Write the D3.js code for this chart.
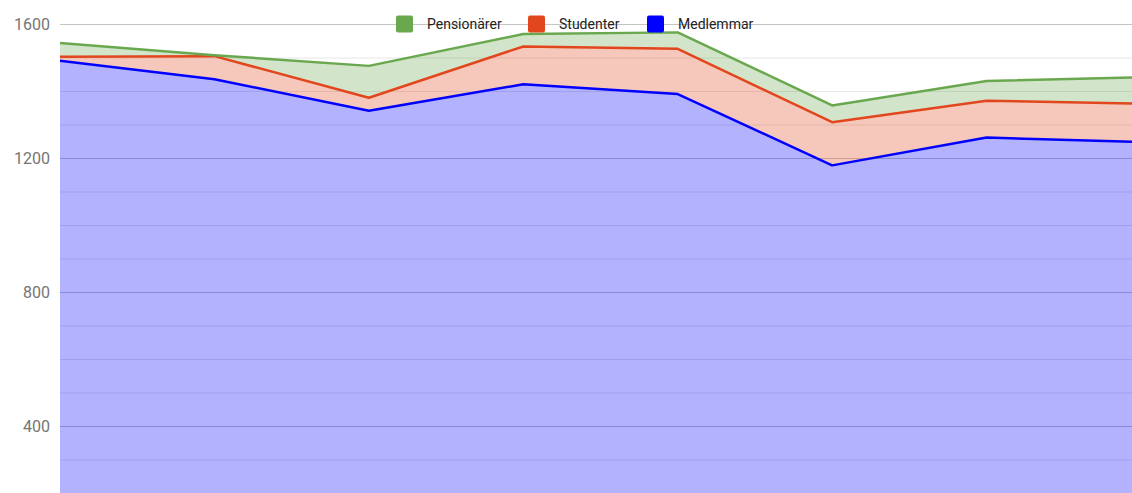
<!DOCTYPE html>
<html>
<head>
<meta charset="utf-8">
<script src="https://cdn.jsdelivr.net/npm/d3@7"></script>
<style>
  body { margin: 0; background: #fff; }
  svg { display: block; font-family: Roboto, "Noto Sans", sans-serif; }
</style>
</head>
<body>
<script>
var width = 1132, height = 493;

// data
const categories = ["1", "2", "3", "4", "5", "6", "7", "8"];
const medlemmar   = [1490, 1435, 1341, 1420, 1391, 1178, 1261, 1248];
const studenter   = [12, 69, 39, 113, 135, 129, 110, 114];
const pensionarer = [41, 3, 95, 37, 49, 50, 59, 79];
const seriesNames = ["Medlemmar", "Studenter", "Pensionärer"];
const seriesColors = ["#0000ff", "#e2461d", "#6aa84f"];
const yTicks = [400, 800, 1200, 1600];
const yMinor = [300, 500, 600, 700, 900, 1000, 1100, 1300, 1400, 1500];

const table = categories.map((c, i) => ({
  cat: c, Medlemmar: medlemmar[i], Studenter: studenter[i], "Pensionärer": pensionarer[i]
}));
const stacked = d3.stack().keys(seriesNames)(table);

const x = d3.scalePoint().domain(categories).range([60, 1141]);
const y = d3.scaleLinear().domain([200, 1600]).range([493, 24]);

var svg = d3.select("body").append("svg")
  .attr("width", width).attr("height", height);

// gridlines
svg.append("g").selectAll("line").data(yMinor).join("line")
  .attr("x1", 60).attr("x2", width)
  .attr("y1", d => y(d) + 0.5).attr("y2", d => y(d) + 0.5)
  .attr("stroke", "#e6e6e6");
svg.append("g").selectAll("line").data(yTicks).join("line")
  .attr("x1", 60).attr("x2", width)
  .attr("y1", d => y(d) + 0.5).attr("y2", d => y(d) + 0.5)
  .attr("stroke", "#c4c4c4");

// y labels
svg.append("g").selectAll("text").data(yTicks).join("text")
  .attr("x", 50).attr("y", d => y(d))
  .attr("dy", "0.35em")
  .attr("text-anchor", "end")
  .attr("font-size", 16)
  .attr("fill", "#757575")
  .text(d => d);

const area = d3.area()
  .x(d => x(d.data.cat))
  .y0(d => d[0] === 0 ? height : y(d[0]))
  .y1(d => y(d[1]));
const line = d3.line()
  .x(d => x(d.data.cat))
  .y(d => y(d[1]));

svg.append("g").selectAll("path").data(stacked).join("path")
  .attr("d", area)
  .attr("fill", (d, i) => seriesColors[i])
  .attr("fill-opacity", 0.3);

svg.append("g").selectAll("path").data(stacked).join("path")
  .attr("d", line)
  .attr("fill", "none")
  .attr("stroke", (d, i) => seriesColors[i])
  .attr("stroke-width", 2.5)
  .attr("stroke-linejoin", "round");

// legend (reverse order, as in the picture)
const legendItems = [
  {name: "Pensionärer", color: seriesColors[2], x: 396},
  {name: "Studenter", color: seriesColors[1], x: 528},
  {name: "Medlemmar", color: seriesColors[0], x: 647}
];
const lg = svg.append("g").selectAll("g").data(legendItems).join("g")
  .attr("transform", d => `translate(${d.x},${y(1600)})`);
lg.append("rect")
  .attr("x", 0).attr("y", -8.5).attr("width", 17).attr("height", 17)
  .attr("rx", 2)
  .attr("fill", d => d.color);
lg.append("text")
  .attr("x", 31).attr("dy", "0.35em")
  .attr("font-size", 14)
  .attr("fill", "#222")
  .text(d => d.name);
</script>
</body>
</html>
